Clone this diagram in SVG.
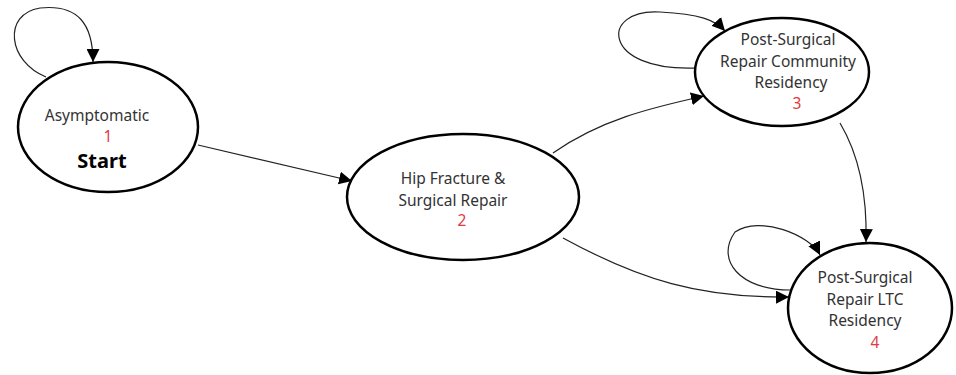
<svg xmlns="http://www.w3.org/2000/svg" width="956" height="375" viewBox="0 0 956 375">
<style>
.n{fill:#fff;stroke:#000;stroke-width:2.5}
.t{font-family:"Noto Sans","Open Sans",sans-serif;font-size:15.5px;fill:#333;text-anchor:middle}
.r{fill:#e03a44}
.b{font-size:20px;font-weight:bold;fill:#000}
.e{fill:none;stroke:#222;stroke-width:1.2;marker-end:url(#a)}
</style>
<defs>
<marker id="a" viewBox="0 0 10 10" refX="10" refY="5" markerWidth="13" markerHeight="13" markerUnits="userSpaceOnUse" orient="auto">
<path d="M0,0 L10,5 L0,10 z" fill="#000"/>
</marker>
</defs>
<rect width="956" height="375" fill="#fff"/>
<g id="edges">
<path class="e" d="M46,77 C8,62 2,14 40,8 C78,4 93,24 93,62"/>
<path class="e" d="M198,145 L352,181"/>
<path class="e" d="M553,153 C600,120 650,108 704,96"/>
<path class="e" d="M697,68 C600,72 600,8 660,12 C700,14 715,20 725,31"/>
<path class="e" d="M840,123 C862,160 867,205 866,242"/>
<path class="e" d="M563,238 C640,280 700,298 789,297"/>
<path class="e" d="M790,290 C740,290 715,260 735,232 C760,215 810,235 820,255"/>
</g>
<g id="node1">
<ellipse class="n" cx="108" cy="127" rx="90" ry="65"/>
<text class="t" x="97" y="121">Asymptomatic</text>
<text class="t r" x="108" y="142">1</text>
<text class="t b" x="102" y="168">Start</text>
</g>
<g id="node2">
<ellipse class="n" cx="463" cy="197" rx="116" ry="63"/>
<text class="t" x="453" y="184">Hip Fracture &amp;</text>
<text class="t" x="453" y="205.5">Surgical Repair</text>
<text class="t r" x="462" y="226">2</text>
</g>
<g id="node3">
<ellipse class="n" cx="782" cy="72" rx="87" ry="54"/>
<text class="t" x="788" y="45">Post-Surgical</text>
<text class="t" x="788" y="66.5">Repair Community</text>
<text class="t" x="791" y="88">Residency</text>
<text class="t r" x="797" y="108.5">3</text>
</g>
<g id="node4">
<ellipse class="n" cx="870" cy="308" rx="82" ry="65"/>
<text class="t" x="865" y="283">Post-Surgical</text>
<text class="t" x="865" y="304.5">Repair LTC</text>
<text class="t" x="865" y="326">Residency</text>
<text class="t r" x="875" y="347.5">4</text>
</g>
</svg>
